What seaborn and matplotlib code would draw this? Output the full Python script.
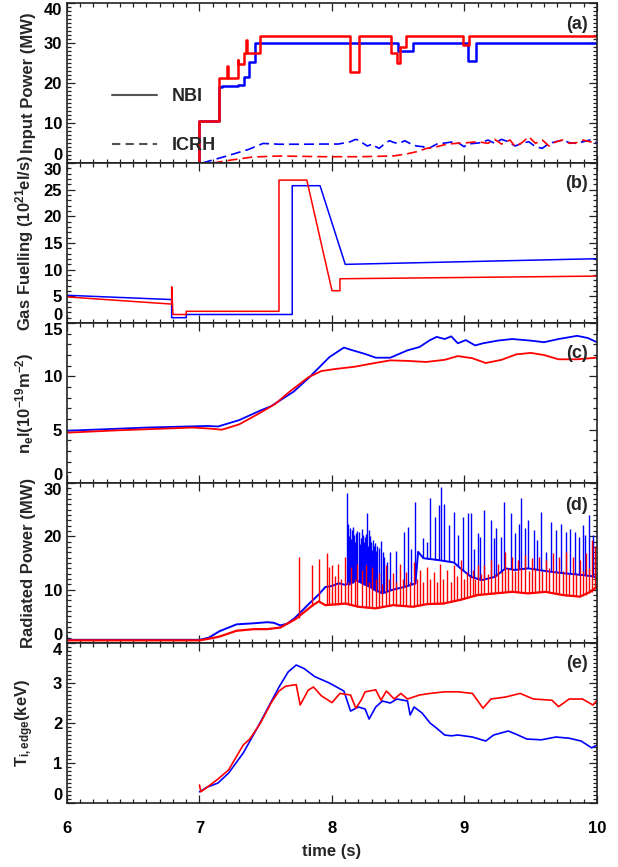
import numpy as np
import matplotlib
matplotlib.use("Agg")
import matplotlib.pyplot as plt
import seaborn as sns
from matplotlib.lines import Line2D
from matplotlib.ticker import MultipleLocator

# ---------------- data ----------------
# (a) heating power, NBI as step waveforms (value holds until next time)
nbi_red_t = [6.0, 7.0, 7.151, 7.205, 7.212, 7.287, 7.292, 7.336, 7.350, 7.356,
             7.454, 8.138, 8.202, 8.446, 8.49, 8.515, 8.556, 8.985, 9.036, 10.0]
nbi_red_p = [0.0, 10.6, 21.2, 24.3, 21.2, 25.8, 24.7, 27.4, 30.8, 27.4,
             31.7, 22.8, 31.7, 27.4, 25.1, 28.9, 31.7, 29.5, 31.7, 31.7]
nbi_blue_t = [6.0, 7.0, 7.151, 7.17, 7.287, 7.336, 7.377, 7.42, 8.497, 8.608,
              9.023, 9.087, 10.0]
nbi_blue_p = [0.0, 10.6, 18.9, 19.3, 19.5, 21.4, 25.3, 30.0, 28.1, 30.0,
              25.5, 30.0, 30.0]

icrh_blue_t = [7.02, 7.2, 7.37, 7.48, 7.6, 7.8, 7.946, 8.049, 8.138, 8.177, 8.202,
               8.228, 8.267, 8.305, 8.331, 8.356, 8.395, 8.433, 8.472, 8.51, 8.549,
               8.587, 8.638, 8.69, 8.715, 8.754, 8.792, 8.831, 8.869, 8.92, 8.959,
               8.997, 9.023, 9.074, 9.126, 9.177, 9.228, 9.279, 9.331, 9.382, 9.433,
               9.485, 9.536, 9.587, 9.638, 9.69, 9.741, 9.792, 9.844, 9.895, 9.946,
               9.997]
icrh_blue_p = [0.0, 1.7, 3.4, 4.9, 4.7, 4.7, 4.75, 4.75, 5.33, 5.9, 5.75,
               5.08, 4.25, 4.75, 4.08, 3.67, 4.75, 5.58, 5.08, 4.92, 5.58,
               4.92, 4.25, 4.08, 3.42, 4.08, 4.75, 4.92, 5.08, 5.33, 4.92,
               4.08, 4.75, 4.92, 5.08, 5.75, 4.92, 5.92, 5.33, 4.25, 4.92,
               5.33, 4.08, 3.67, 4.92, 5.33, 5.75, 5.08, 4.92, 5.33, 5.75,
               5.08]
icrh_red_t = [7.1, 7.25, 7.4, 7.6, 7.946, 8.202, 8.459, 8.561, 8.638, 8.715, 8.792,
              8.869, 8.946, 9.023, 9.1, 9.177, 9.228, 9.279, 9.344, 9.382, 9.433,
              9.485, 9.536, 9.587, 9.638, 9.69, 9.741, 9.792, 9.844, 9.895, 9.946,
              9.997]
icrh_red_p = [0.0, 0.8, 1.5, 1.75, 1.58, 1.58, 1.75, 2.25, 2.83, 3.67, 4.08,
              4.75, 4.92, 5.08, 5.33, 4.92, 5.92, 4.75, 5.75, 4.08, 5.08,
              6.58, 4.92, 5.75, 4.25, 5.33, 5.75, 4.92, 5.08, 5.75, 5.33,
              5.08]

# (b) gas fuelling rate
gas_blue_t = [6.0, 6.79, 6.79, 6.9, 6.9, 7.70, 7.70, 7.91, 8.10, 10.0]
gas_blue_r = [5.2, 4.4, 1.0, 1.0, 1.6, 1.6, 25.75, 25.75, 11.0, 12.06]
gas_red_t = [6.0, 6.79, 6.79, 6.80, 6.9, 6.9, 7.60, 7.60, 7.81, 8.0, 8.06, 8.06, 10.0]
gas_red_r = [4.9, 3.55, 6.8, 1.6, 1.6, 2.2, 2.2, 26.8, 26.8, 6.06, 6.06, 8.3, 8.8]

# (c) line-integrated density
ne_blue_t = [6.0, 6.3, 6.6, 6.9, 7.06, 7.14, 7.3, 7.46, 7.54, 7.71, 7.82, 7.98,
             8.09, 8.14, 8.25, 8.33, 8.44, 8.57, 8.66, 8.74, 8.79, 8.85, 8.9,
             8.95, 9.01, 9.08, 9.14, 9.25, 9.36, 9.5, 9.6, 9.71, 9.85, 9.93, 10.0]
ne_blue = [4.9, 5.05, 5.2, 5.3, 5.35, 5.3, 5.9, 6.8, 7.2, 8.56, 9.8, 11.8,
           12.7, 12.5, 12.1, 11.75, 11.75, 12.44, 12.75, 13.4, 13.7, 13.5, 13.75,
           13.1, 13.4, 12.9, 13.1, 13.35, 13.5, 13.35, 13.2, 13.5, 13.8, 13.6, 13.2]
ne_red_t = [6.0, 6.4, 6.95, 7.08, 7.17, 7.3, 7.46, 7.57, 7.68, 7.82, 7.92, 8.03,
            8.17, 8.3, 8.44, 8.57, 8.71, 8.85, 8.95, 9.06, 9.16, 9.28, 9.39, 9.5,
            9.6, 9.71, 9.85, 10.0]
ne_red = [4.72, 4.95, 5.2, 5.1, 5.0, 5.5, 6.6, 7.4, 8.56, 9.9, 10.5, 10.7,
          10.9, 11.2, 11.5, 11.45, 11.35, 11.55, 11.9, 11.7, 11.25, 11.55, 12.06,
          12.2, 12.0, 11.6, 11.6, 11.75]

# (d) radiated power: slow level plus ELM bursts (time, level before burst, burst peak)
prad_blue_t = [6.0, 6.5, 7.0, 7.07, 7.15, 7.28, 7.41, 7.51, 7.56, 7.61, 7.66, 7.72,
               7.82, 7.9, 7.95, 8.0, 8.05, 8.1, 8.18, 8.28, 8.38, 8.46, 8.56, 8.63,
               8.65, 8.69, 8.79, 8.92, 8.97, 9.05, 9.13, 9.23, 9.31, 9.38, 9.48,
               9.61, 9.74, 9.87, 9.97, 10.0]
prad_blue = [0.6, 0.6, 0.6, 1.0, 2.2, 3.5, 3.7, 3.9, 3.8, 3.3, 3.6, 4.7,
             7.2, 9.1, 10.5, 10.7, 11.2, 10.9, 11.8, 10.6, 9.3, 10.0, 10.6, 11.2,
             17.1, 15.9, 15.6, 15.1, 14.0, 12.4, 11.8, 12.4, 14.0, 13.7, 14.0,
             13.5, 13.1, 12.8, 12.5, 12.2]
elm_blue_t = [8.113, 8.120, 8.128, 8.138, 8.145, 8.151, 8.158, 8.166, 8.174, 8.182,
              8.19, 8.202, 8.21, 8.218, 8.225, 8.233, 8.241, 8.249, 8.257, 8.267,
              8.273, 8.279, 8.287, 8.295, 8.302, 8.31, 8.318, 8.326, 8.335, 8.343,
              8.356, 8.369, 8.382, 8.395, 8.413, 8.438, 8.484, 8.541, 8.574, 8.6,
              8.626, 8.69, 8.715, 8.741, 8.779, 8.805, 8.823, 8.849, 8.882, 8.92,
              8.951, 8.992, 9.023, 9.049, 9.074, 9.1, 9.12, 9.151, 9.197, 9.223,
              9.241, 9.279, 9.3, 9.351, 9.382, 9.408, 9.423, 9.454, 9.477, 9.523,
              9.549, 9.574, 9.613, 9.651, 9.69, 9.728, 9.767, 9.797, 9.831, 9.864,
              9.895, 9.908, 9.941, 9.972]
elm_blue_base = [11.0, 11.0, 10.9, 11.0, 11.0, 11.3, 11.3, 11.5, 11.6, 11.8,
                 11.7, 11.5, 11.4, 11.2, 11.1, 11.0, 10.9, 10.8, 10.8, 10.7,
                 10.6, 10.6, 10.5, 10.3, 10.1, 10.0, 9.9, 9.8, 9.7, 9.6,
                 9.5, 9.4, 9.4, 9.5, 9.7, 9.9, 10.2, 10.5, 10.7, 10.9,
                 11.1, 15.9, 15.8, 15.7, 15.6, 15.5, 15.5, 15.4, 15.3, 15.1,
                 14.5, 13.5, 12.8, 12.4, 12.2, 12.0, 11.9, 11.9, 12.2, 12.4,
                 12.6, 13.4, 13.8, 13.8, 13.7, 13.8, 13.8, 13.9, 14.0, 13.8,
                 13.7, 13.6, 13.5, 13.4, 13.2, 13.1, 13.0, 12.9, 12.9, 12.8,
                 12.7, 12.7, 12.6, 12.5]
elm_blue_peak = [28.1, 22.4, 20.0, 21.5, 19.5, 21.2, 21.7, 20.2, 18.9, 20.6,
                 21.0, 20.9, 18.5, 19.6, 21.3, 20.2, 18.9, 19.9, 20.5, 24.4,
                 18.2, 21.2, 20.1, 19.0, 17.5, 19.3, 18.2, 18.7, 17.2, 18.1,
                 17.9, 19.2, 17.0, 16.2, 15.2, 17.1, 17.3, 20.9, 21.8, 17.7,
                 26.5, 19.6, 19.0, 27.1, 23.7, 25.9, 29.3, 26.1, 22.1, 24.6,
                 20.2, 23.7, 24.3, 24.3, 17.7, 20.6, 19.9, 24.9, 23.1, 19.6,
                 21.5, 19.9, 26.5, 24.3, 20.6, 22.4, 27.1, 21.5, 23.1, 21.2,
                 19.3, 24.6, 17.1, 22.7, 21.2, 22.4, 20.9, 21.3, 20.9, 19.9,
                 22.1, 20.2, 24.0, 20.2]

prad_red_t = [6.0, 7.0, 7.07, 7.15, 7.28, 7.41, 7.51, 7.61, 7.72, 7.8, 7.85, 7.9,
              7.95, 8.1, 8.2, 8.33, 8.46, 8.61, 8.72, 8.84, 8.97, 9.1, 9.23, 9.36,
              9.48, 9.61, 9.74, 9.87, 9.95, 10.0]
prad_red = [0.5, 0.5, 0.8, 1.2, 2.3, 2.6, 2.6, 2.9, 4.4, 6.0, 7.0, 7.8,
            7.1, 7.4, 6.8, 6.5, 7.1, 6.8, 7.3, 7.4, 8.1, 9.0, 9.3, 9.6,
            9.3, 9.6, 9.0, 8.7, 9.6, 10.6]
elm_red_t = [7.754, 7.849, 7.9, 7.966, 7.977, 8.002, 8.02, 8.043, 8.07, 8.1,
             8.12, 8.146, 8.17, 8.19, 8.223, 8.254, 8.28, 8.305, 8.33, 8.356,
             8.38, 8.408, 8.43, 8.459, 8.485, 8.51, 8.535, 8.561, 8.59, 8.618,
             8.64, 8.664, 8.69, 8.715, 8.74, 8.767, 8.79, 8.818, 8.84, 8.869,
             8.895, 8.92, 8.945, 8.972, 8.995, 9.018, 9.04, 9.061, 9.08, 9.1,
             9.125, 9.151, 9.175, 9.202, 9.23, 9.254, 9.28, 9.305, 9.33, 9.356,
             9.38, 9.402, 9.43, 9.459, 9.485, 9.51, 9.535, 9.561, 9.585, 9.613,
             9.64, 9.669, 9.69, 9.715, 9.74, 9.767, 9.79, 9.818, 9.845, 9.869,
             9.895, 9.92, 9.94, 9.959, 9.985]
elm_red_base = [4.6, 7.0, 7.8, 7.1, 7.1, 7.1, 7.1, 7.2, 7.3, 7.4,
                7.3, 7.1, 7.0, 6.8, 6.7, 6.6, 6.6, 6.5, 6.5, 6.6,
                6.7, 6.9, 7.0, 7.1, 7.0, 7.0, 6.9, 6.9, 6.8, 6.8,
                6.9, 7.0, 7.1, 7.3, 7.3, 7.3, 7.4, 7.4, 7.4, 7.6,
                7.7, 7.8, 8.0, 8.1, 8.3, 8.5, 8.7, 8.8, 8.9, 9.0,
                9.0, 9.1, 9.1, 9.2, 9.3, 9.4, 9.4, 9.5, 9.5, 9.6,
                9.6, 9.5, 9.4, 9.3, 9.3, 9.4, 9.4, 9.5, 9.5, 9.6,
                9.5, 9.4, 9.3, 9.1, 9.0, 8.9, 8.8, 8.8, 8.8, 8.7,
                8.8, 9.0, 9.3, 9.6, 10.2]
elm_red_peak = [16.2, 14.6, 15.7, 16.8, 14.2, 14.6, 12.5, 14.9, 12.0, 16.2,
                11.5, 14.3, 12.0, 14.9, 13.7, 14.6, 11.5, 14.3, 12.0, 13.1,
                11.0, 14.6, 12.0, 13.1, 11.5, 14.9, 12.0, 13.4, 11.5, 15.2,
                12.0, 13.7, 11.5, 14.3, 12.0, 13.4, 11.5, 14.9, 12.0, 13.7,
                11.5, 14.6, 12.5, 15.6, 12.0, 13.4, 12.5, 13.7, 12.0, 14.6,
                13.0, 14.6, 13.0, 15.6, 13.0, 14.9, 13.5, 17.1, 14.0, 16.2,
                13.5, 15.6, 14.0, 16.5, 13.5, 15.9, 14.0, 16.2, 13.5, 15.6,
                14.0, 16.8, 13.5, 16.2, 13.5, 17.1, 13.0, 16.2, 13.0, 15.6,
                13.5, 16.8, 14.0, 19.3, 18.1]

# (e) edge ion temperature
ti_blue_t = [7.0, 7.06, 7.14, 7.22, 7.33, 7.44, 7.52, 7.6, 7.67, 7.73, 7.79,
             7.87, 7.98, 8.09, 8.14, 8.2, 8.25, 8.28, 8.33, 8.38, 8.44, 8.49,
             8.57, 8.59, 8.62, 8.68, 8.74, 8.79, 8.85, 8.9, 8.95, 9.06, 9.16,
             9.22, 9.33, 9.39, 9.47, 9.58, 9.69, 9.79, 9.88, 9.96, 10.0]
ti_blue = [0.28, 0.4, 0.5, 0.75, 1.25, 1.9, 2.4, 2.9, 3.28, 3.45, 3.36,
           3.16, 3.0, 2.8, 2.3, 2.4, 2.35, 2.1, 2.4, 2.55, 2.5, 2.6,
           2.55, 2.2, 2.4, 2.25, 2.0, 1.87, 1.7, 1.68, 1.7, 1.65, 1.55,
           1.7, 1.8, 1.72, 1.6, 1.58, 1.65, 1.62, 1.55, 1.38, 1.45]
ti_red_t = [7.0, 7.01, 7.06, 7.14, 7.22, 7.33, 7.38, 7.46, 7.54, 7.6, 7.65,
            7.73, 7.76, 7.82, 7.86, 7.92, 8.0, 8.06, 8.14, 8.18, 8.22, 8.25,
            8.33, 8.37, 8.41, 8.47, 8.52, 8.57, 8.66, 8.74, 8.85, 8.95, 9.06,
            9.14, 9.2, 9.31, 9.42, 9.52, 9.66, 9.71, 9.79, 9.89, 9.97, 10.0]
ti_red = [0.45, 0.28, 0.4, 0.6, 0.83, 1.45, 1.6, 2.0, 2.5, 2.8, 2.92,
          2.96, 2.45, 2.82, 2.9, 2.68, 2.51, 2.74, 2.7, 2.37, 2.57, 2.78,
          2.83, 2.57, 2.8, 2.6, 2.74, 2.6, 2.7, 2.74, 2.78, 2.78, 2.74,
          2.37, 2.6, 2.65, 2.74, 2.6, 2.57, 2.41, 2.6, 2.6, 2.45, 2.57]

# ---------------- style ----------------
sns.set_theme(style="ticks")
plt.rcParams.update({
    "font.family": ["Liberation Sans", "DejaVu Sans"],
    "font.weight": "bold",
    "axes.labelweight": "bold",
    "font.size": 12,
    "mathtext.fontset": "custom",
    "mathtext.rm": "Liberation Sans:bold",
    "mathtext.it": "Liberation Sans:bold",
    "mathtext.bf": "Liberation Sans:bold",
    "mathtext.default": "rm",
})

RED = "#ff0000"
BLUE = "#0000ff"
INK = "#222222"

fig, axes = plt.subplots(5, 1, figsize=(6.18, 8.67), dpi=100, sharex=True)
fig.subplots_adjust(left=0.1084, right=0.966, top=0.9965, bottom=0.0738, hspace=0)

panels = [
    ("(a)", "Input Power (MW)", 40, 10, 1, 0.865),
    ("(b)", r"Gas Fuelling (10$^{21}$el/s)", 30, 5, 1, 0.87),
    ("(c)", r"n$_e$l(10$^{-19}$m$^{-2}$)", 15, 5, 1, 0.81),
    ("(d)", "Radiated Power (MW)", 30, 10, 1, 0.86),
    ("(e)", r"T$_{i,edge}$(keV)", 4, 1, 0.1, 0.87),
]


def trace(ax, t, v, color, lw=1.0, **kw):
    sns.lineplot(x=t, y=v, ax=ax, color=color, lw=lw, estimator=None,
                 sort=False, **kw)


ax_a, ax_b, ax_c, ax_d, ax_e = axes

# (a)
trace(ax_a, icrh_blue_t, icrh_blue_p, BLUE, lw=1.2, linestyle=(0, (6, 3)))
trace(ax_a, icrh_red_t, icrh_red_p, RED, lw=1.2, linestyle=(0, (6, 3)))
trace(ax_a, nbi_blue_t, nbi_blue_p, BLUE, lw=1.8, drawstyle="steps-post")
trace(ax_a, nbi_red_t, nbi_red_p, RED, lw=1.8, drawstyle="steps-post")
handles = [Line2D([], [], color="#555555", lw=1.5),
           Line2D([], [], color="#555555", lw=1.5, linestyle=(0, (4, 2.5)))]
ax_a.legend(handles, ["NBI", "ICRH"], loc="center left",
            bbox_to_anchor=(0.085, 0.262), frameon=False, borderpad=0,
            borderaxespad=0, handlelength=2.5, handletextpad=0.8,
            labelspacing=1.75, prop={"weight": "bold", "size": 13})

# (b)
trace(ax_b, gas_blue_t, gas_blue_r, BLUE, lw=1.1)
trace(ax_b, gas_red_t, gas_red_r, RED, lw=1.1)

# (c)
trace(ax_c, ne_blue_t, ne_blue, BLUE, lw=1.3)
trace(ax_c, ne_red_t, ne_red, RED, lw=1.3)

# (d)
trace(ax_d, prad_blue_t, prad_blue, BLUE, lw=1.4)
ax_d.vlines(elm_blue_t, elm_blue_base, elm_blue_peak, color=BLUE, lw=1.0)
trace(ax_d, prad_red_t, prad_red, RED, lw=1.6)
ax_d.vlines(elm_red_t, elm_red_base, elm_red_peak, color=RED, lw=1.0)

# (e)
trace(ax_e, ti_blue_t, ti_blue, BLUE, lw=1.2)
trace(ax_e, ti_red_t, ti_red, RED, lw=1.2)

for ax, (tag, label, ymax, major, minor, tag_y) in zip(axes, panels):
    ax.set_xlim(6, 10)
    ax.set_ylim(0, ymax)
    ax.xaxis.set_major_locator(MultipleLocator(1))
    ax.xaxis.set_minor_locator(MultipleLocator(0.1))
    ax.set_yticks(np.arange(0, ymax + 0.001, major))
    ax.yaxis.set_minor_locator(MultipleLocator(minor))
    ax.tick_params(which="both", direction="in", top=True, right=True,
                   color=INK, width=0.9, labelsize=12, labelcolor="black")
    ax.tick_params(which="major", length=6)
    ax.tick_params(which="minor", length=3)
    ax.tick_params(axis="y", pad=3.5)
    ax.tick_params(axis="x", pad=13)
    for s in ax.spines.values():
        s.set_color(INK)
        s.set_linewidth(1.2)
    ax.set_ylabel(label, fontsize=12, fontweight="bold")
    ax.yaxis.set_label_coords(-0.058, 0.5)
    ax.text(0.983, tag_y, tag, transform=ax.transAxes, ha="right", va="center",
            fontsize=13, fontweight="bold")
    ticks = ax.yaxis.get_major_ticks()
    ticks[0].label1.set_verticalalignment("bottom")
    ticks[-1].label1.set_verticalalignment("top")

ax_e.set_xlabel("time (s)", fontsize=12, fontweight="bold", labelpad=6)

fig.savefig("out.png", dpi=100)
